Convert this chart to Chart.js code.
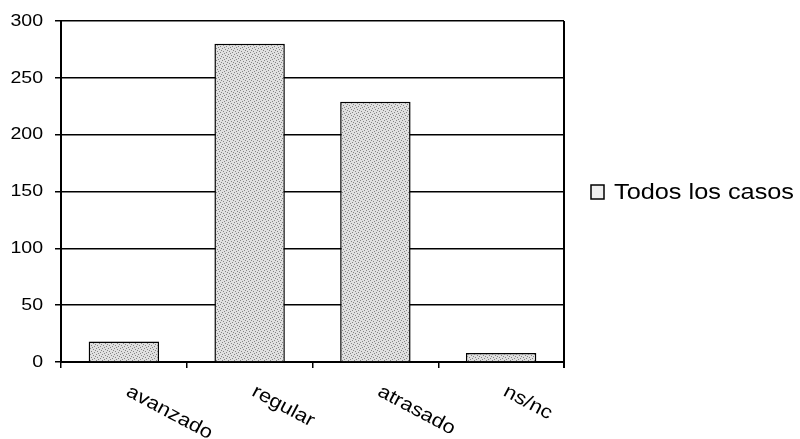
<!DOCTYPE html>
<html>
<head>
<meta charset="utf-8">
<script src="https://cdn.jsdelivr.net/npm/chart.js@4.4.1/dist/chart.umd.min.js"></script>
<style>
  html, body { margin: 0; padding: 0; background: #fff; }
  #wrap { width: 800px; height: 439px; }
</style>
</head>
<body>
<div id="wrap"><canvas id="grafico" width="800" height="439"></canvas></div>
<script>
// datos
const categorias = ["avanzado", "regular", "atrasado", "ns/nc"];
const valores = [18, 280, 229, 8];
const serie = "Todos los casos";
const ticksY = [0, 50, 100, 150, 200, 250, 300];

const fuente = "'Liberation Sans', Arial, sans-serif";
const estirar = 1.15; // el texto del original es algo mas ancho

// trama punteada gris para las barras
function crearTrama() {
    const c = document.createElement("canvas");
    c.width = 6;
    c.height = 6;
    const g = c.getContext("2d");
    g.fillStyle = "#e0e0e0";
    g.fillRect(0, 0, 6, 6);
    g.fillStyle = "#858585";
    [[0, 0], [3, 1], [1, 3], [4, 4], [2, 5], [5, 2]].forEach(p => g.fillRect(p[0], p[1], 1, 1));
    return g.createPattern(c, "repeat");
}

function textoAncho(ctx, txt, x, y, ang) {
    ctx.save();
    ctx.translate(x, y);
    if (ang) ctx.rotate(ang * Math.PI / 180);
    ctx.scale(estirar, 1);
    ctx.fillText(txt, 0, 0);
    ctx.restore();
}

// borde derecho, textos de ejes y leyenda
const extras = {
    id: "extras",
    afterDraw(chart) {
        const ctx = chart.ctx;
        const area = chart.chartArea;
        const x = chart.scales.x;
        const y = chart.scales.y;
        ctx.save();
        ctx.strokeStyle = "#000";
        ctx.lineWidth = 2;
        ctx.beginPath();
        ctx.moveTo(area.right, area.top);
        ctx.lineTo(area.right, area.bottom + 6);
        ctx.stroke();

        ctx.fillStyle = "#000";

        // etiquetas del eje y
        ctx.font = "17px " + fuente;
        ctx.textAlign = "right";
        ctx.textBaseline = "middle";
        ticksY.forEach(v => textoAncho(ctx, String(v), 43, y.getPixelForValue(v), 0));

        // etiquetas inclinadas del eje x
        ctx.font = "19px " + fuente;
        ctx.textAlign = "left";
        ctx.textBaseline = "top";
        categorias.forEach((cat, i) => {
            textoAncho(ctx, cat, x.getPixelForValue(i) + 8, area.bottom + 20, 28);
        });

        // leyenda
        const ly = 192;
        ctx.fillStyle = "#efefef";
        ctx.fillRect(591, ly - 7, 13, 14);
        ctx.strokeStyle = "#000";
        ctx.lineWidth = 1.5;
        ctx.strokeRect(591, ly - 7, 13, 14);
        ctx.fillStyle = "#000";
        ctx.font = "22px " + fuente;
        ctx.textBaseline = "middle";
        textoAncho(ctx, serie, 614, ly + 1, 0);
        ctx.restore();
    }
};

const ctx = document.getElementById("grafico").getContext("2d");
new Chart(ctx, {
    type: "bar",
    data: {
        labels: categorias,
        datasets: [{
            label: serie,
            data: valores,
            backgroundColor: crearTrama(),
            borderColor: "#000",
            borderWidth: 1.5,
            barPercentage: 0.56,
            categoryPercentage: 1,
        }],
    },
    options: {
        responsive: false,
        animation: false,
        layout: { padding: { top: 21, right: 236, left: 0, bottom: 0 } },
        plugins: {
            legend: { display: false },
            tooltip: { enabled: false },
        },
        scales: {
            x: {
                grid: {
                    offset: true,
                    drawOnChartArea: false,
                    drawTicks: true,
                    tickLength: 6,
                    color: "#000",
                    lineWidth: 1.5,
                },
                border: { color: "#000", width: 2 },
                ticks: { display: false },
                afterFit: s => { s.height = 77; },
            },
            y: {
                min: 0,
                max: 300,
                afterBuildTicks: s => { s.ticks = ticksY.map(v => ({ value: v })); },
                grid: {
                    color: "#000",
                    lineWidth: 1.5,
                    tickLength: 6,
                },
                border: { color: "#000", width: 2 },
                ticks: { display: false },
                afterFit: s => { s.width = 61; },
            },
        },
    },
    plugins: [extras],
});
</script>
</body>
</html>
